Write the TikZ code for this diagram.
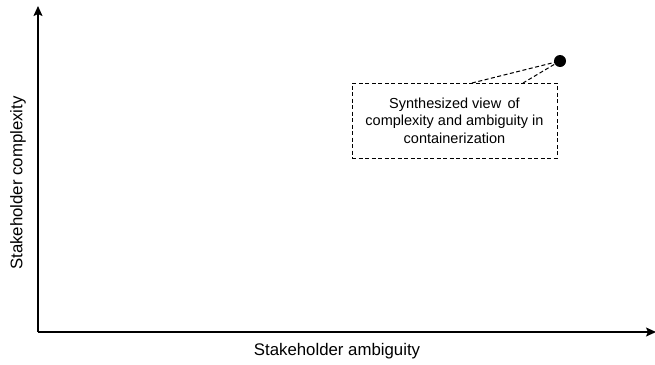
\documentclass[tikz,border=0pt]{standalone}
\usepackage{fontspec}
\setmainfont{Liberation Sans}
\usetikzlibrary{arrows.meta}
\begin{document}
\begin{tikzpicture}[x=1pt,y=-1pt,
  axis/.style={line width=1.4pt,-{Stealth[length=10pt,width=9pt,inset=2pt]}},
  dsh/.style={dash pattern=on 4pt off 2.5pt,line width=1pt},
  callout/.style={draw,dsh,align=center,font=\fontsize{14.5}{17.5}\selectfont,inner sep=0pt,minimum width=205pt,minimum height=75pt},
  axislabel/.style={font=\fontsize{16.8}{20}\selectfont}]
\useasboundingbox (0,0) rectangle (655,364);
\coordinate (o) at (38,332);
\coordinate (ytop) at (38,6);
\coordinate (xend) at (656,332);
\draw[axis] (o) -- (ytop);
\draw[axis] (o) -- (xend);
\node[axislabel] (xl) at (337,351) {Stakeholder ambiguity};
\node[axislabel,rotate=90] (yl) at (18,183) {Stakeholder complexity};
\node[circle,fill=black,minimum size=12pt,inner sep=0pt] (dot) at (560,61) {};
\node[callout] (box) at (454.5,120.5) {Synthesized view \,of\\complexity and ambiguity in\\containerization};
\coordinate (p1) at (472,83);
\coordinate (p2) at (523,83);
\draw[dsh] (p1) -- (dot.center) -- (p2);
\end{tikzpicture}
\end{document}
